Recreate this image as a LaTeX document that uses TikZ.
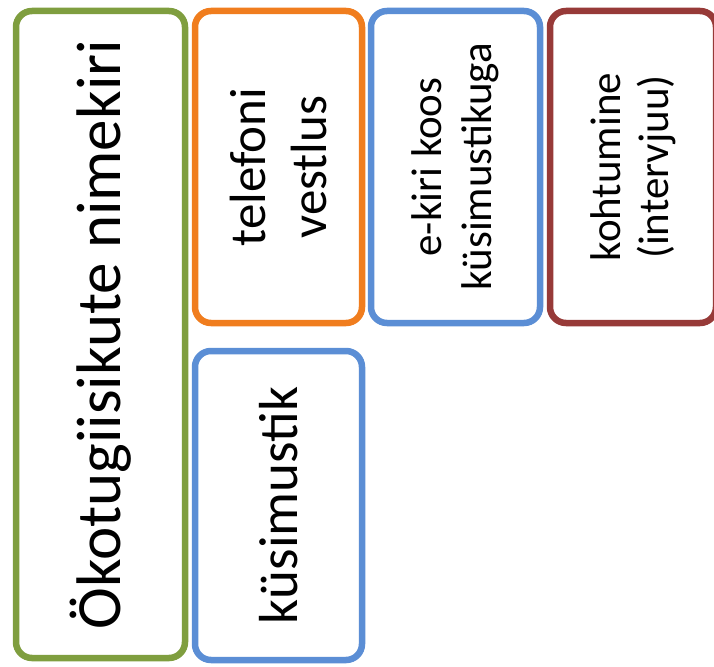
\documentclass[tikz,border=0pt]{standalone}
\usepackage{fontspec}
\setmainfont{Carlito}

\definecolor{listgreen}{HTML}{7F9E3F}
\definecolor{phoneorange}{HTML}{F07D1E}
\definecolor{mailblue}{HTML}{5B8ED5}
\definecolor{meetred}{HTML}{973A38}

\tikzset{
  card/.style={draw, line width=6.5pt, rounded corners=16pt, rotate=90,
    align=center, inner sep=0pt, fill=white, text=black},
}

\begin{document}
\begin{tikzpicture}[x=1pt,y=-1pt]
  \useasboundingbox (0,0) rectangle (714,666);
  % left column
  \node[card, draw=listgreen, minimum width=647pt, minimum height=169pt,
    font=\fontsize{63}{75}\selectfont] (nimekiri) at (100.5,334.5) {Ökotugiisikute nimekiri};
  % top row
  \node[card, draw=phoneorange, minimum width=312pt, minimum height=167pt,
    font=\fontsize{51}{61}\selectfont] (telefon) at (278.5,167) {telefoni\\vestlus};
  \node[card, draw=mailblue, minimum width=312pt, minimum height=169pt,
    font=\fontsize{43}{50}\selectfont] (ekiri) at (455.5,167) {e-kiri koos\\küsimustikuga};
  \node[card, draw=meetred, minimum width=312pt, minimum height=166pt,
    font=\fontsize{43}{48}\selectfont] (kohtumine) at (633,167) {kohtumine\\(intervjuu)};
  % below
  \node[card, draw=mailblue, minimum width=309pt, minimum height=167pt,
    font=\fontsize{55}{65}\selectfont] (kysimustik) at (278.5,505.5) {küsimustik};
\end{tikzpicture}
\end{document}
